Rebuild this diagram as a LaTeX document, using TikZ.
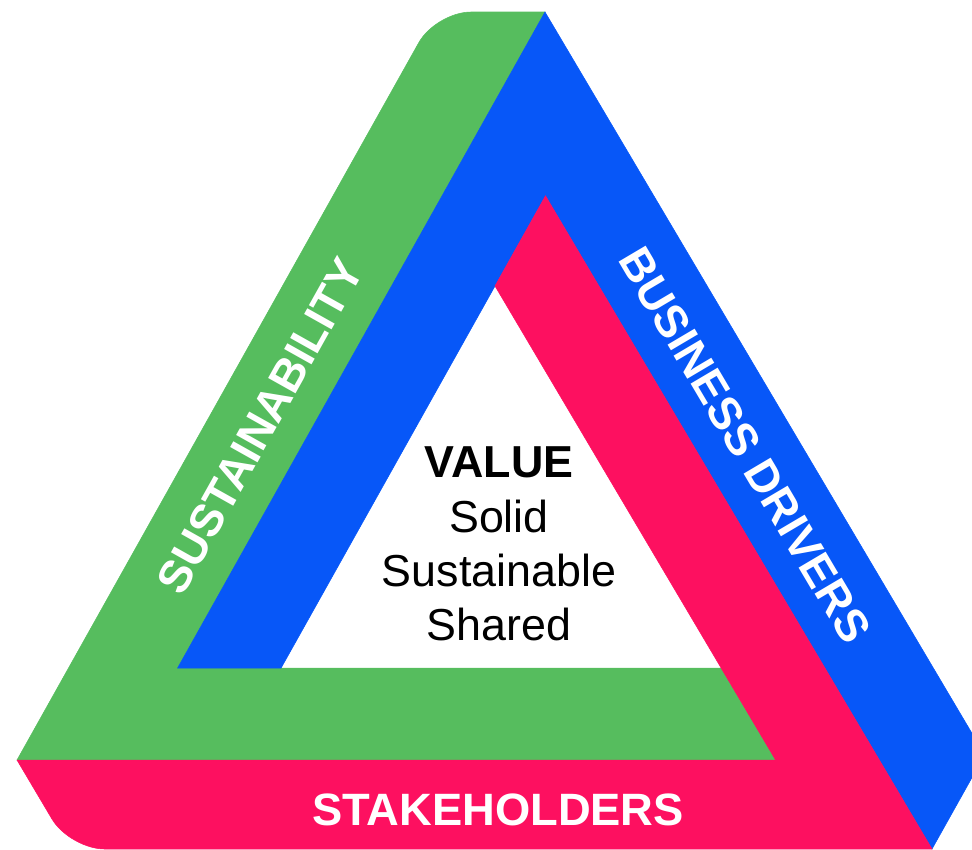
\documentclass[tikz,border=0pt]{standalone}
\usepackage{fontspec}
\setmainfont{Liberation Sans}
\definecolor{bandgreen}{HTML}{56BD5E}
\definecolor{bandblue}{HTML}{0757F8}
\definecolor{bandpink}{HTML}{FD1060}
\tikzset{
  bandtext/.style={text=white, inner sep=0pt, font=\fontsize{26}{30}\selectfont\bfseries},
  centertext/.style={text=black, inner sep=0pt, anchor=base, font=\fontsize{25.5}{30}\selectfont},
}
\begin{document}
\begin{tikzpicture}[x=0.02cm, y=-0.02cm]
\useasboundingbox (0,0) rectangle (972,849);
\clip (0,0) rectangle (972,849);
% green band (left side + inner bottom)
\fill[bandgreen, draw=bandgreen, line width=0.3pt]
  (470.9,12) -- (545,12) -- (177.6,668) -- (721.1,668) -- (775.6,760) -- (17,760)
  -- (418.8,42.6) .. controls (428.2,25.8) and (451.7,12) .. (470.9,12) -- cycle;
% blue band (right side + inner left)
\fill[bandblue, draw=bandblue, line width=0.3pt]
  (545,12) -- (984.7,754.8) -- (932,849) -- (545.5,195.8) -- (281.1,668) -- (177.6,668) -- cycle;
% pink band (bottom + inner right)
\fill[bandpink, draw=bandpink, line width=0.3pt]
  (545.5,195.8) -- (932,849) -- (104.7,849) .. controls (85.5,849) and (61.7,835.5) .. (51.9,818.9)
  -- (17,760) -- (775.6,760) -- (495,286) -- cycle;
% labels
\node[bandtext, rotate=60.75] (sust) at (260,426) {SUSTAINABILITY};
\node[bandtext, rotate=-59.4] (drivers) at (745,445) {BUSINESS DRIVERS};
\node[bandtext, anchor=base, font=\fontsize{25.8}{30}\selectfont\bfseries] (stake) at (498,825) {STAKEHOLDERS};
\node[centertext, font=\fontsize{25.5}{30}\selectfont\bfseries] (value) at (499,477) {VALUE};
\node[centertext] (solid) at (499,532) {Solid};
\node[centertext] (sustainable) at (499,586) {Sustainable};
\node[centertext] (shared) at (499,640) {Shared};
\end{tikzpicture}
\end{document}
